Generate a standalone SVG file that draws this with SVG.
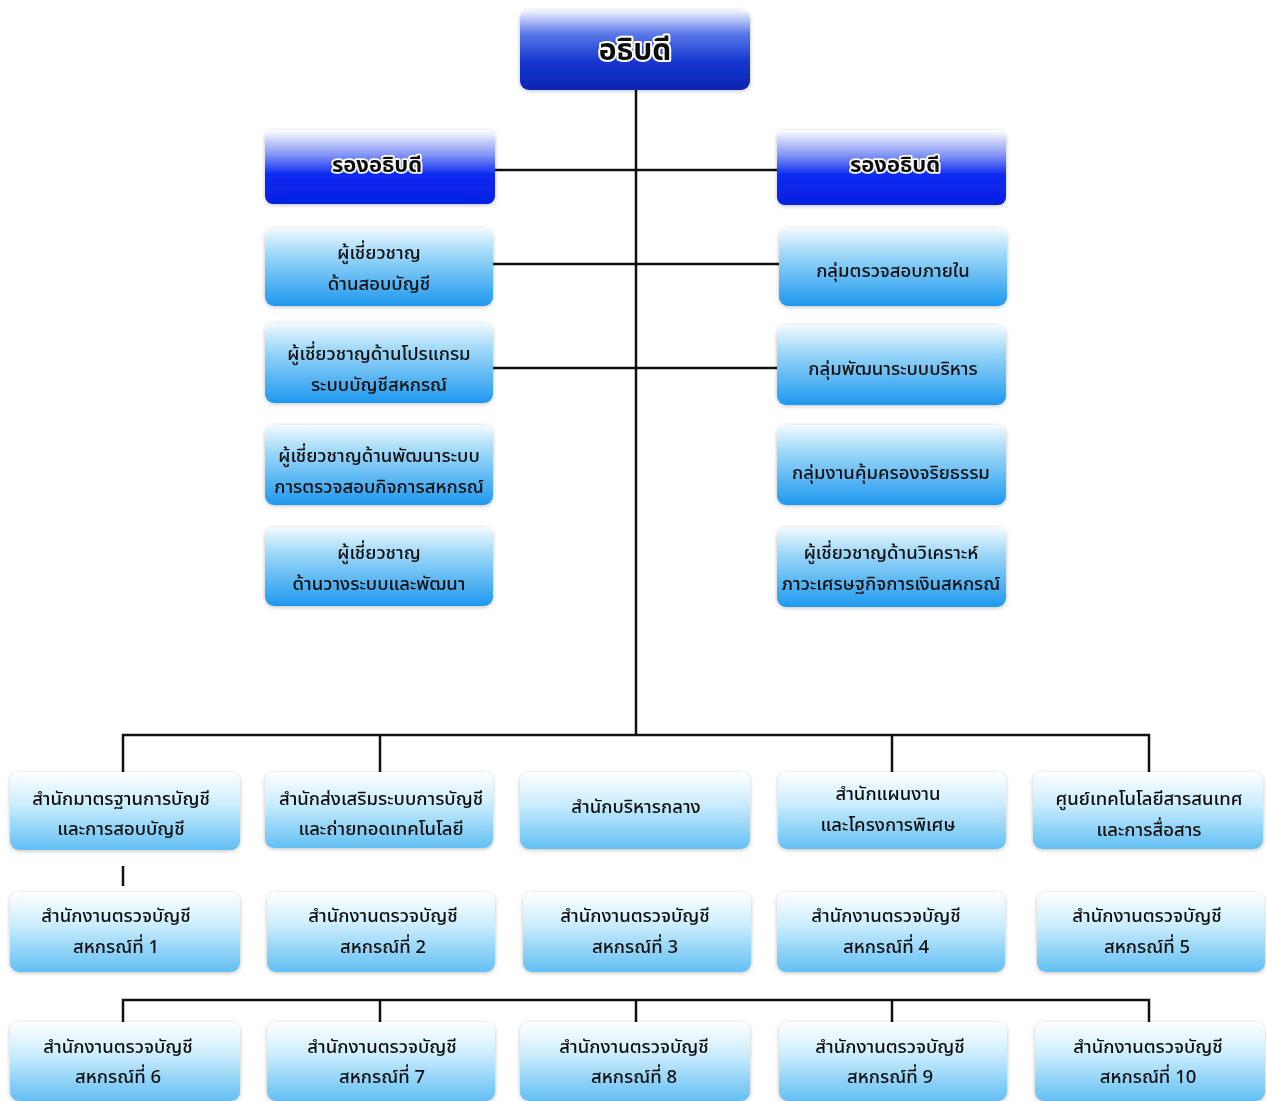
<svg xmlns="http://www.w3.org/2000/svg" width="1266" height="1101" viewBox="0 0 1266 1101">
<defs>
<linearGradient id="gDark" x1="0" y1="0" x2="0" y2="1">
<stop offset="0" stop-color="#f4f6ff"/>
<stop offset="0.3" stop-color="#5a78e8"/>
<stop offset="0.65" stop-color="#1436d0"/>
<stop offset="1" stop-color="#0a26b0"/>
</linearGradient>
<linearGradient id="gDep" x1="0" y1="0" x2="0" y2="1">
<stop offset="0" stop-color="#ffffff"/>
<stop offset="0.35" stop-color="#7d8ff5"/>
<stop offset="0.6" stop-color="#0b2af0"/>
<stop offset="1" stop-color="#0520e0"/>
</linearGradient>
<linearGradient id="gMid" x1="0" y1="0" x2="0" y2="1">
<stop offset="0" stop-color="#f2fbff"/>
<stop offset="0.35" stop-color="#9ad6f8"/>
<stop offset="1" stop-color="#1e98ee"/>
</linearGradient>
<linearGradient id="gLow" x1="0" y1="0" x2="0" y2="1">
<stop offset="0" stop-color="#ffffff"/>
<stop offset="0.4" stop-color="#cdeefd"/>
<stop offset="1" stop-color="#62bff3"/>
</linearGradient>
<filter id="sh" x="-5%" y="-5%" width="110%" height="115%">
<feGaussianBlur in="SourceAlpha" stdDeviation="2"/>
<feOffset dx="0" dy="1"/>
<feComponentTransfer><feFuncA type="linear" slope="0.25"/></feComponentTransfer>
<feMerge><feMergeNode/><feMergeNode in="SourceGraphic"/></feMerge>
</filter>
</defs>
<style>
.n{filter:url(#sh);}
.dark{fill:url(#gDark);}
.dep{fill:url(#gDep);}
.mid{fill:url(#gMid);}
.low{fill:url(#gLow);}
text{font-family:"Noto Sans Thai","Loma","Tlwg Typo","Garuda","DejaVu Sans","Liberation Sans",sans-serif;text-anchor:middle;fill:#111;}
.t{font-size:18.5px;font-weight:500;}
.h1{font-size:30px;font-weight:bold;fill:#111;stroke:#fff;stroke-width:4;paint-order:stroke;stroke-linejoin:round;}
.h2{font-size:22px;font-weight:bold;fill:#111;stroke:#fff;stroke-width:3.5;paint-order:stroke;stroke-linejoin:round;}
.ln{stroke:#111;stroke-width:2.5;fill:none;}
</style>
<rect width="1266" height="1101" fill="#ffffff"/>
<g id="connectors">
<path class="ln" d="M636 90 V735"/>
<path class="ln" d="M495 170 H777"/>
<path class="ln" d="M493 264 H779"/>
<path class="ln" d="M493 368 H779"/>
<path class="ln" d="M123 772 V735 H1149 V772"/>
<path class="ln" d="M380 735 V772"/>
<path class="ln" d="M892 735 V772"/>
<path class="ln" d="M123 866 V886"/>
<path class="ln" d="M123 1022 V1000 H1149 V1022"/>
<path class="ln" d="M380 1000 V1022"/>
<path class="ln" d="M636 1000 V1022"/>
<path class="ln" d="M892 1000 V1022"/>
</g>
<g id="n-director" class="n"><rect class="dark" x="520" y="10" width="230" height="80" rx="9"/><text class="h1" x="635" y="60">อธิบดี</text></g>
<g id="n-deputy-l" class="n"><rect class="dep" x="265" y="130" width="230" height="74" rx="8"/><text class="h2" x="377" y="172">รองอธิบดี</text></g>
<g id="n-deputy-r" class="n"><rect class="dep" x="777" y="130" width="229" height="75" rx="8"/><text class="h2" x="895" y="172">รองอธิบดี</text></g>

<g id="n-l1" class="n"><rect class="mid" x="265" y="228" width="228" height="78" rx="9"/><text class="t" x="379" y="259">ผู้เชี่ยวชาญ</text><text class="t" x="379" y="290">ด้านสอบบัญชี</text></g>
<g id="n-l2" class="n"><rect class="mid" x="265" y="323" width="228" height="80" rx="9"/><text class="t" x="379" y="360">ผู้เชี่ยวชาญด้านโปรแกรม</text><text class="t" x="379" y="391">ระบบบัญชีสหกรณ์</text></g>
<g id="n-l3" class="n"><rect class="mid" x="265" y="425" width="228" height="80" rx="9"/><text class="t" x="379" y="462">ผู้เชี่ยวชาญด้านพัฒนาระบบ</text><text class="t" x="379" y="493">การตรวจสอบกิจการสหกรณ์</text></g>
<g id="n-l4" class="n"><rect class="mid" x="265" y="527" width="228" height="79" rx="9"/><text class="t" x="379" y="559">ผู้เชี่ยวชาญ</text><text class="t" x="379" y="590">ด้านวางระบบและพัฒนา</text></g>

<g id="n-r1" class="n"><rect class="mid" x="779" y="228" width="228" height="78" rx="9"/><text class="t" x="893" y="277">กลุ่มตรวจสอบภายใน</text></g>
<g id="n-r2" class="n"><rect class="mid" x="777" y="325" width="229" height="80" rx="9"/><text class="t" x="893" y="375">กลุ่มพัฒนาระบบบริหาร</text></g>
<g id="n-r3" class="n"><rect class="mid" x="777" y="425" width="229" height="80" rx="9"/><text class="t" x="891" y="479">กลุ่มงานคุ้มครองจริยธรรม</text></g>
<g id="n-r4" class="n"><rect class="mid" x="777" y="527" width="229" height="80" rx="9"/><text class="t" x="891" y="559">ผู้เชี่ยวชาญด้านวิเคราะห์</text><text class="t" x="891" y="590">ภาวะเศรษฐกิจการเงินสหกรณ์</text></g>

<g id="n-b1" class="n"><rect class="low" x="10" y="772" width="230" height="78" rx="9"/><text class="t" x="121" y="805">สำนักมาตรฐานการบัญชี</text><text class="t" x="121" y="835">และการสอบบัญชี</text></g>
<g id="n-b2" class="n"><rect class="low" x="265" y="772" width="228" height="76" rx="9"/><text class="t" x="381" y="805">สำนักส่งเสริมระบบการบัญชี</text><text class="t" x="381" y="835">และถ่ายทอดเทคโนโลยี</text></g>
<g id="n-b3" class="n"><rect class="low" x="520" y="772" width="230" height="77" rx="9"/><text class="t" x="636" y="813">สำนักบริหารกลาง</text></g>
<g id="n-b4" class="n"><rect class="low" x="778" y="772" width="228" height="77" rx="9"/><text class="t" x="888" y="800">สำนักแผนงาน</text><text class="t" x="888" y="831">และโครงการพิเศษ</text></g>
<g id="n-b5" class="n"><rect class="low" x="1033" y="772" width="230" height="77" rx="9"/><text class="t" x="1149" y="805">ศูนย์เทคโนโลยีสารสนเทศ</text><text class="t" x="1149" y="836">และการสื่อสาร</text></g>

<g id="n-c1" class="n"><rect class="low" x="10" y="892" width="230" height="80" rx="9"/><text class="t" x="116" y="922">สำนักงานตรวจบัญชี</text><text class="t" x="116" y="953">สหกรณ์ที่ 1</text></g>
<g id="n-c2" class="n"><rect class="low" x="267" y="892" width="228" height="80" rx="9"/><text class="t" x="383" y="922">สำนักงานตรวจบัญชี</text><text class="t" x="383" y="953">สหกรณ์ที่ 2</text></g>
<g id="n-c3" class="n"><rect class="low" x="523" y="892" width="228" height="80" rx="9"/><text class="t" x="635" y="922">สำนักงานตรวจบัญชี</text><text class="t" x="635" y="953">สหกรณ์ที่ 3</text></g>
<g id="n-c4" class="n"><rect class="low" x="777" y="892" width="228" height="80" rx="9"/><text class="t" x="886" y="922">สำนักงานตรวจบัญชี</text><text class="t" x="886" y="953">สหกรณ์ที่ 4</text></g>
<g id="n-c5" class="n"><rect class="low" x="1037" y="892" width="228" height="80" rx="9"/><text class="t" x="1147" y="922">สำนักงานตรวจบัญชี</text><text class="t" x="1147" y="953">สหกรณ์ที่ 5</text></g>

<g id="n-d1" class="n"><rect class="low" x="10" y="1022" width="230" height="79" rx="9"/><text class="t" x="118" y="1053">สำนักงานตรวจบัญชี</text><text class="t" x="118" y="1083">สหกรณ์ที่ 6</text></g>
<g id="n-d2" class="n"><rect class="low" x="267" y="1022" width="228" height="79" rx="9"/><text class="t" x="382" y="1053">สำนักงานตรวจบัญชี</text><text class="t" x="382" y="1083">สหกรณ์ที่ 7</text></g>
<g id="n-d3" class="n"><rect class="low" x="520" y="1022" width="230" height="79" rx="9"/><text class="t" x="634" y="1053">สำนักงานตรวจบัญชี</text><text class="t" x="634" y="1083">สหกรณ์ที่ 8</text></g>
<g id="n-d4" class="n"><rect class="low" x="779" y="1022" width="228" height="79" rx="9"/><text class="t" x="890" y="1053">สำนักงานตรวจบัญชี</text><text class="t" x="890" y="1083">สหกรณ์ที่ 9</text></g>
<g id="n-d5" class="n"><rect class="low" x="1035" y="1022" width="230" height="79" rx="9"/><text class="t" x="1148" y="1053">สำนักงานตรวจบัญชี</text><text class="t" x="1148" y="1083">สหกรณ์ที่ 10</text></g>
</svg>
